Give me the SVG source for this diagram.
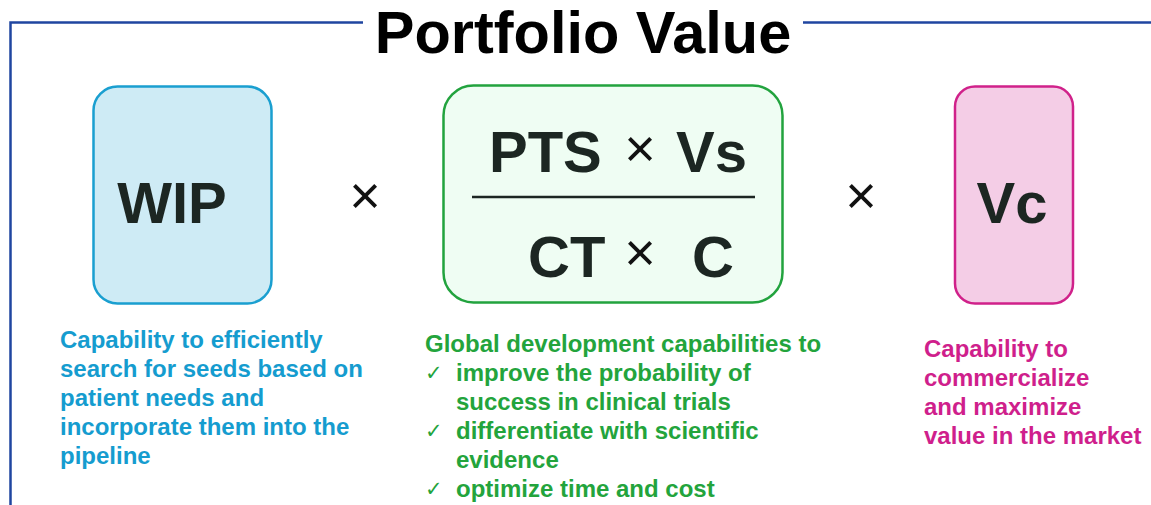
<svg xmlns="http://www.w3.org/2000/svg" width="1151" height="505" viewBox="0 0 1151 505">
<style>
.t{font-family:"Liberation Sans",Arial,sans-serif;font-weight:bold}
.big{font-size:58px;fill:#1c2622}
.x{font-family:"Liberation Sans",Arial,sans-serif;font-size:54px;fill:#111}
.blue{font-size:24px;fill:#159ccf}
.green{font-size:24px;fill:#23a43c}
.pink{font-size:24px;fill:#cf1f8c}
.chk{font-family:"DejaVu Sans",sans-serif;font-size:21px;font-weight:normal;fill:#23a43c}
</style>
<rect width="1151" height="505" fill="#fff"/>
<g id="frame" fill="none" stroke="#1f45a0" stroke-width="2.5">
<path d="M363 22.5H10.5V505"/>
<path d="M803 22.5H1151"/>
</g>
<text class="t" x="583" y="53" text-anchor="middle" font-size="59.5" fill="#000">Portfolio Value</text>
<g id="wip">
<rect x="93.5" y="86.5" width="178" height="217" rx="24" fill="#ceebf5" stroke="#1a9fd0" stroke-width="2.5"/>
<text class="t big" x="172" y="223" text-anchor="middle">WIP</text>
</g>
<g id="ops">
<text class="x" x="365" y="214" text-anchor="middle">×</text>
<text class="x" x="861" y="214" text-anchor="middle">×</text>
</g>
<g id="fraction">
<rect x="443.5" y="85.5" width="339" height="217" rx="30" fill="#effdf3" stroke="#22a33e" stroke-width="2.5"/>
<text class="t big" x="489" y="172">PTS</text>
<text class="x" x="640" y="167" text-anchor="middle">×</text>
<text class="t big" x="676" y="172">Vs</text>
<line x1="472" y1="197" x2="755" y2="197" stroke="#1c2622" stroke-width="2.5"/>
<text class="t big" x="528" y="277">CT</text>
<text class="x" x="640" y="271" text-anchor="middle">×</text>
<text class="t big" x="692" y="277">C</text>
</g>
<g id="vc">
<rect x="955" y="86.5" width="118" height="217" rx="20" fill="#f4cde6" stroke="#d0218a" stroke-width="2.5"/>
<text class="t big" x="1012" y="223" text-anchor="middle" fill="#111">Vc</text>
</g>
<g id="wip-desc" class="t blue">
<text x="60" y="348">Capability to efficiently</text>
<text x="60" y="377">search for seeds based on</text>
<text x="60" y="406">patient needs and</text>
<text x="60" y="435">incorporate them into the</text>
<text x="60" y="464">pipeline</text>
</g>
<g id="fraction-desc" class="t green">
<text x="425" y="352">Global development capabilities to</text>
<text class="chk" x="425" y="380">✓</text>
<text x="456" y="381">improve the probability of</text>
<text x="456" y="410">success in clinical trials</text>
<text class="chk" x="425" y="438">✓</text>
<text x="456" y="439">differentiate with scientific</text>
<text x="456" y="468">evidence</text>
<text class="chk" x="425" y="496">✓</text>
<text x="456" y="497">optimize time and cost</text>
</g>
<g id="vc-desc" class="t pink">
<text x="924" y="357">Capability to</text>
<text x="924" y="386">commercialize</text>
<text x="924" y="415">and maximize</text>
<text x="924" y="444">value in the market</text>
</g>
</svg>
